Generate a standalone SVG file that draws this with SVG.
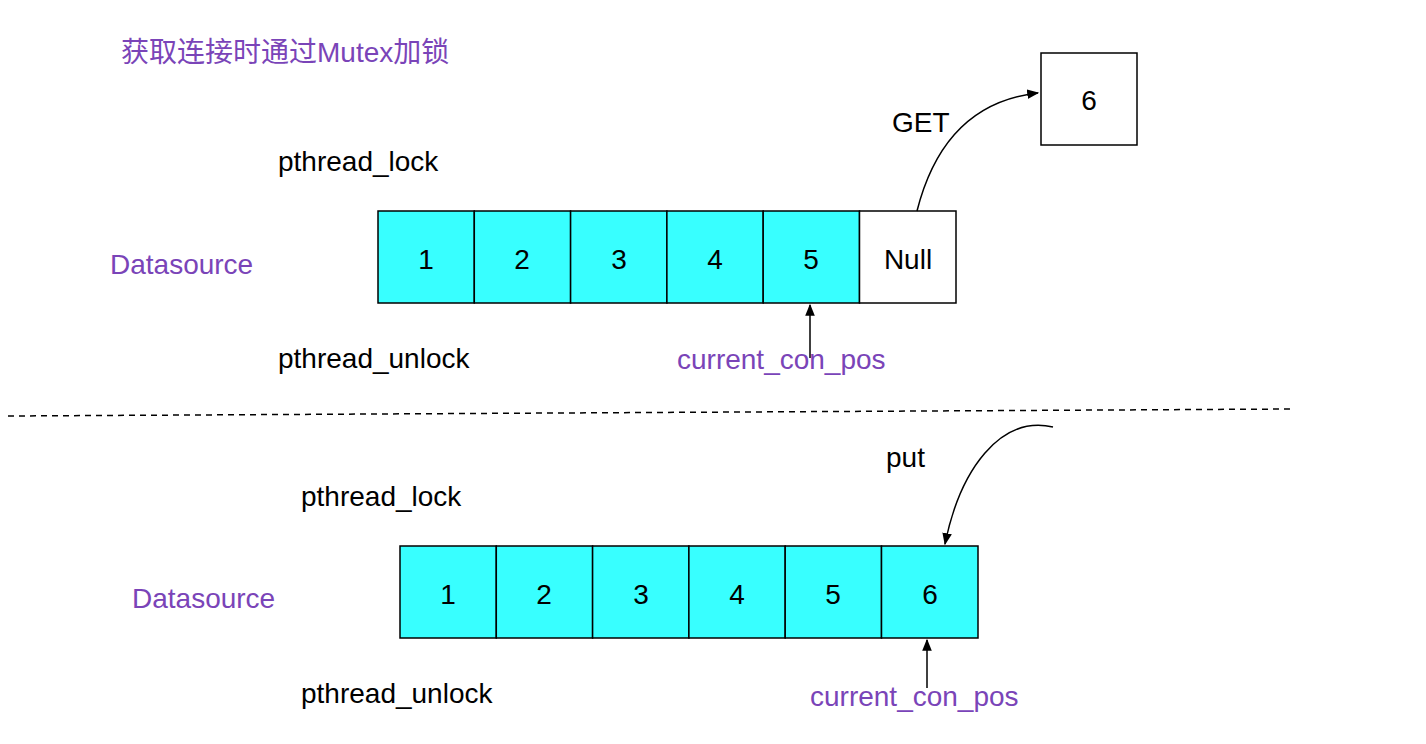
<svg xmlns="http://www.w3.org/2000/svg" width="1426" height="744" viewBox="0 0 1426 744">
<style>
text{font-family:"Liberation Sans",Arial,"Noto Sans CJK SC",sans-serif;font-size:28px;fill:#000}
.p{fill:#7a44b8}
.c{fill:#38ffff;stroke:#000;stroke-width:1.5}
.w{fill:#fff;stroke:#000;stroke-width:1.5}
.n{text-anchor:middle;font-size:28px}
.l{fill:none;stroke:#000;stroke-width:1.5}
</style>
<defs><marker id="a" viewBox="0 0 10 10" refX="9" refY="5" markerWidth="8" markerHeight="8" orient="auto-start-reverse"><path d="M0,1 L10,5 L0,9 z" fill="#000"/></marker></defs>
<rect width="1426" height="744" fill="#fff"/>
<text class="p" x="121" y="62">获取连接时通过Mutex加锁</text>
<g id="top">
<text x="278" y="171">pthread_lock</text>
<text x="278" y="368">pthread_unlock</text>
<text class="p" x="110" y="274">Datasource</text>
<g id="t1"><rect class="c" x="378" y="211" width="96.3" height="92"/><text class="n" x="426" y="269">1</text></g>
<g id="t2"><rect class="c" x="474.3" y="211" width="96.3" height="92"/><text class="n" x="522" y="269">2</text></g>
<g id="t3"><rect class="c" x="570.6" y="211" width="96.3" height="92"/><text class="n" x="619" y="269">3</text></g>
<g id="t4"><rect class="c" x="666.9" y="211" width="96.3" height="92"/><text class="n" x="715" y="269">4</text></g>
<g id="t5"><rect class="c" x="763.2" y="211" width="96.3" height="92"/><text class="n" x="811" y="269">5</text></g>
<g id="tnull"><rect class="w" x="859.5" y="211" width="96.5" height="92"/><text class="n" x="908" y="269">Null</text></g>
<g id="box6"><rect class="w" x="1041" y="53" width="96" height="92"/><text class="n" x="1089" y="110">6</text></g>
<text x="892" y="132">GET</text>
<text class="p" x="677" y="369">current_con_pos</text>
</g>
<g id="bottom">
<text x="301" y="506">pthread_lock</text>
<text x="301" y="703">pthread_unlock</text>
<text class="p" x="132" y="608">Datasource</text>
<g id="b1"><rect class="c" x="400" y="546" width="96.3" height="92"/><text class="n" x="448" y="604">1</text></g>
<g id="b2"><rect class="c" x="496.3" y="546" width="96.3" height="92"/><text class="n" x="544" y="604">2</text></g>
<g id="b3"><rect class="c" x="592.6" y="546" width="96.3" height="92"/><text class="n" x="641" y="604">3</text></g>
<g id="b4"><rect class="c" x="688.9" y="546" width="96.3" height="92"/><text class="n" x="737" y="604">4</text></g>
<g id="b5"><rect class="c" x="785.2" y="546" width="96.3" height="92"/><text class="n" x="833" y="604">5</text></g>
<g id="b6"><rect class="c" x="881.5" y="546" width="96.5" height="92"/><text class="n" x="930" y="604">6</text></g>
<text x="886" y="467">put</text>
<text class="p" x="810" y="706">current_con_pos</text>
</g>
<g id="connectors">
<path class="l" d="M917,211 C935,140 975,100 1038,93" marker-end="url(#a)"/>
<path class="l" d="M810,358 L810,305" marker-end="url(#a)"/>
<path class="l" d="M1053,427 C1000,415 960,470 945,544" marker-end="url(#a)"/>
<path class="l" d="M927,688 L927,640" marker-end="url(#a)"/>
<path class="l" d="M8,416 L1292,409" stroke-dasharray="6,5"/>
</g>
</svg>
